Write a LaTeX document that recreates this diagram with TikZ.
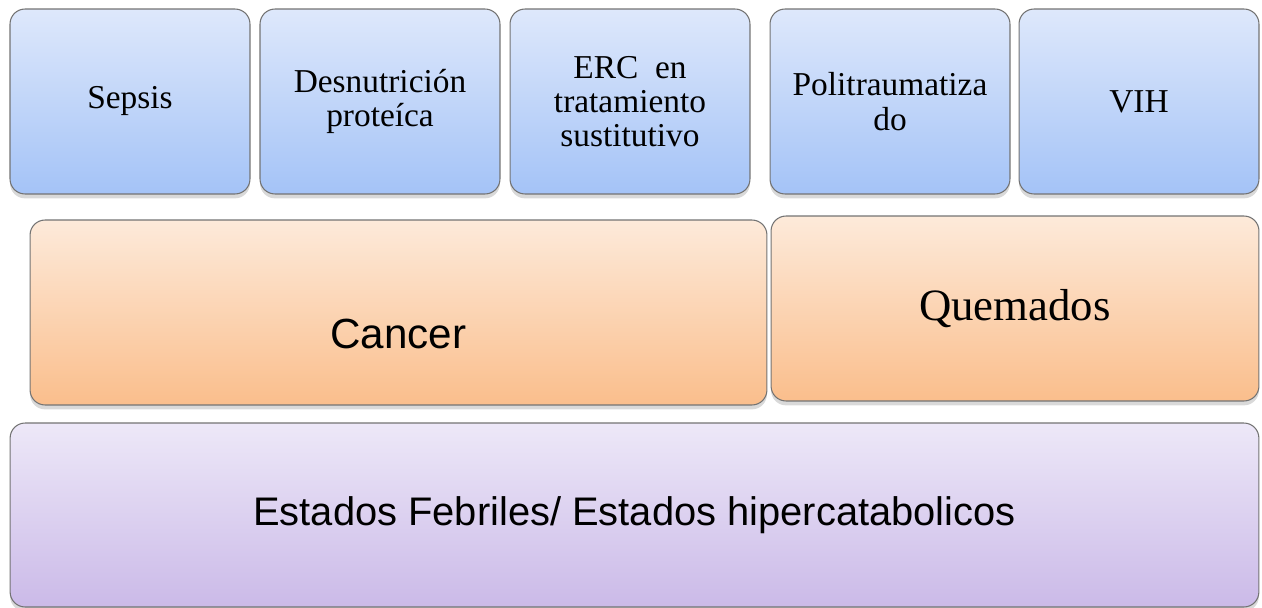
\documentclass[tikz,border=0pt]{standalone}
\usepackage{fontspec}
\setmainfont{Liberation Serif}
\setsansfont{Liberation Sans}
\usetikzlibrary{shadows}
\definecolor{azulA}{RGB}{222,232,251}
\definecolor{azulB}{RGB}{164,195,247}
\definecolor{narA}{RGB}{253,234,218}
\definecolor{narB}{RGB}{250,190,140}
\definecolor{lilaA}{RGB}{237,232,248}
\definecolor{lilaB}{RGB}{203,186,232}

\begin{document}
\begin{tikzpicture}[x=0.02cm, y=-0.02cm]
  \tikzset{caja/.style={draw=black!55, line width=0.6pt, rounded corners=0.3cm, align=center, inner sep=2pt,
      drop shadow={shadow xshift=0pt, shadow yshift=-2.5pt, opacity=0.3}},
    azul/.style={caja, top color=azulA, bottom color=azulB, minimum width=4.8cm, minimum height=3.7cm,
      font=\fontsize{19}{19.5}\selectfont},
    naranja/.style={caja, top color=narA, bottom color=narB, minimum height=3.7cm},
    lila/.style={caja, top color=lilaA, bottom color=lilaB, minimum height=3.68cm},
    grande/.style={font=\sffamily\fontsize{24}{28}\selectfont}}
  \useasboundingbox (0,0) rectangle (1262,608);
  \node[azul] (sepsis) at (130,101.5) {Sepsis};
  \node[azul] (desnut) at (380,101.5) {Desnutrición\\proteíca};
  \node[azul] (erc) at (630,101.5) {ERC~ en\\tratamiento\\sustitutivo};
  \node[azul] (politrauma) at (890,101.5) {Politraumatiza\\do};
  \node[azul] (vih) at (1139,101.5) {VIH};
  \node[naranja, minimum width=14.74cm] (cancer) at (398.5,312.5) {};
  \node[grande] (cancertxt) at ([yshift=-0.42cm]cancer.center) {Cancer};
  \node[naranja, minimum width=9.76cm, font=\fontsize{25.5}{28}\selectfont] (quemados) at (1015,308.5) {Quemados};
  \node[lila, minimum width=24.98cm, grande, font=\sffamily\fontsize{22.7}{27}\selectfont] (estados) at (634.5,515) {Estados Febriles/ Estados hipercatabolicos};
\end{tikzpicture}
\end{document}
